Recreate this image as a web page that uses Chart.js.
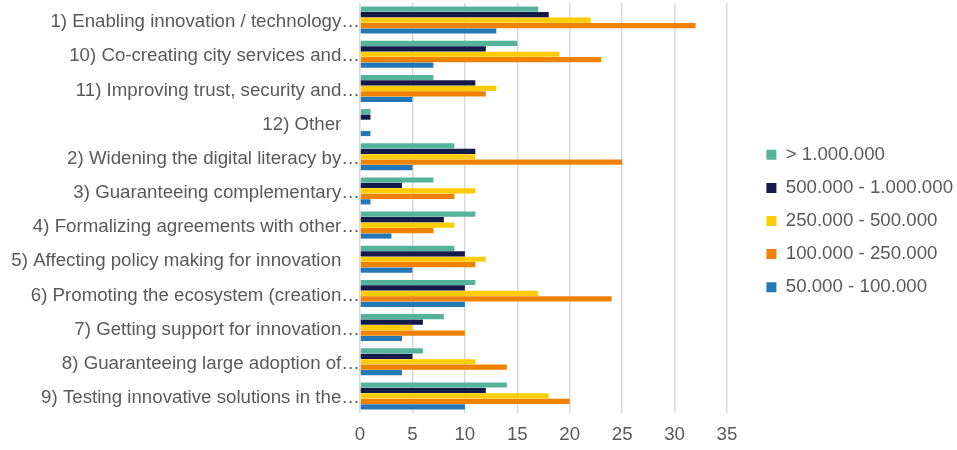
<!DOCTYPE html>
<html>
<head>
<meta charset="utf-8">
<script src="https://cdn.jsdelivr.net/npm/chart.js@4"></script>
<style>
html,body{margin:0;padding:0;background:#fff;}
#wrap{width:957px;height:450px;position:relative;}
</style>
</head>
<body>
<div id="wrap"><canvas id="c" width="957" height="450"></canvas></div>
<script>
const categories = [
  "1) Enabling innovation / technology…",
  "10) Co-creating city services and…",
  "11) Improving trust, security and…",
  "12) Other",
  "2) Widening the digital literacy by…",
  "3) Guaranteeing complementary…",
  "4) Formalizing agreements with other…",
  "5) Affecting policy making for innovation",
  "6) Promoting the ecosystem (creation…",
  "7) Getting support for innovation…",
  "8) Guaranteeing large adoption of…",
  "9) Testing innovative solutions in the…"
];
const seriesNames = ["> 1.000.000", "500.000 - 1.000.000", "250.000 - 500.000", "100.000 - 250.000", "50.000 - 100.000"];
const over1M      = [17, 15, 7, 1, 9, 7, 11, 9, 11, 8, 6, 14];
const s500k_1M    = [18, 12, 11, 1, 11, 4, 8, 10, 10, 6, 5, 12];
const s250k_500k  = [22, 19, 13, 0, 11, 11, 9, 12, 17, 5, 11, 18];
const s100k_250k  = [32, 23, 12, 0, 25, 9, 7, 11, 24, 10, 14, 20];
const s50k_100k   = [13, 7, 5, 1, 5, 1, 3, 5, 10, 4, 4, 10];
const xTicks = [0, 5, 10, 15, 20, 25, 30, 35];

const colors = ["#55B39A", "#141A4A", "#FFCC00", "#F08200", "#2478B5"];
const values = [over1M, s500k_1M, s250k_500k, s100k_250k, s50k_100k];

const textColor = "#595959";
const font = {family: "'Liberation Sans', Arial, sans-serif", size: 18.7};

// legend box sizing / nudging
const LEGEND_WIDTH = 230;
const LEGEND_DX = 25;
const LEGEND_DY = -5.5;
const legendLayout = {
  id: 'legendLayout',
  beforeLayout(chart) {
    const lg = chart.legend;
    if (lg && !lg._patched) {
      const orig = lg.fit.bind(lg);
      lg.fit = function () { orig(); this.width = LEGEND_WIDTH; };
      lg._patched = true;
    }
  },
  afterLayout(chart) {
    const lg = chart.legend;
    if (lg) { lg.left += LEGEND_DX; lg.top += LEGEND_DY; lg.bottom += LEGEND_DY; }
  }
};

new Chart(document.getElementById('c'), {
  type: 'bar',
  data: {
    labels: categories,
    datasets: seriesNames.map((n, i) => ({
      label: n,
      data: values[i],
      backgroundColor: colors[i],
      borderWidth: 0,
      barPercentage: 0.95,
      categoryPercentage: 0.8
    }))
  },
  plugins: [legendLayout],
  options: {
    indexAxis: 'y',
    responsive: false,
    animation: false,
    devicePixelRatio: 1,
    layout: {padding: {top: 3, bottom: 0, left: 0, right: 0}},
    plugins: {
      tooltip: {enabled: false},
      legend: {
        position: 'right',
        align: 'center',
        labels: {
          color: textColor,
          font: font,
          boxWidth: 10,
          boxHeight: 10,
          padding: 14.4
        }
      }
    },
    scales: {
      x: {
        min: 0, max: 35,
        afterBuildTicks: (ax) => { ax.ticks = xTicks.map(v => ({value: v})); },
        afterFit: (s) => { s.height = 37; },
        ticks: {color: textColor, font: font, padding: 11, maxRotation: 0},
        grid: {color: "#D9D9D9", lineWidth: 1.5, drawTicks: false},
        border: {display: false}
      },
      y: {
        afterFit: (s) => { s.width = 360; s.paddingTop = 0; s.paddingBottom = 0; },
        ticks: {
          color: textColor, font: font, padding: 0, autoSkip: false, labelOffset: 2,
          callback: function (v, i) {
            const t = categories[i];
            return t.endsWith('…') ? t : t + '\u2003';
          }
        },
        grid: {display: false, drawTicks: false},
        border: {display: false}
      }
    }
  }
});
</script>
</body>
</html>
